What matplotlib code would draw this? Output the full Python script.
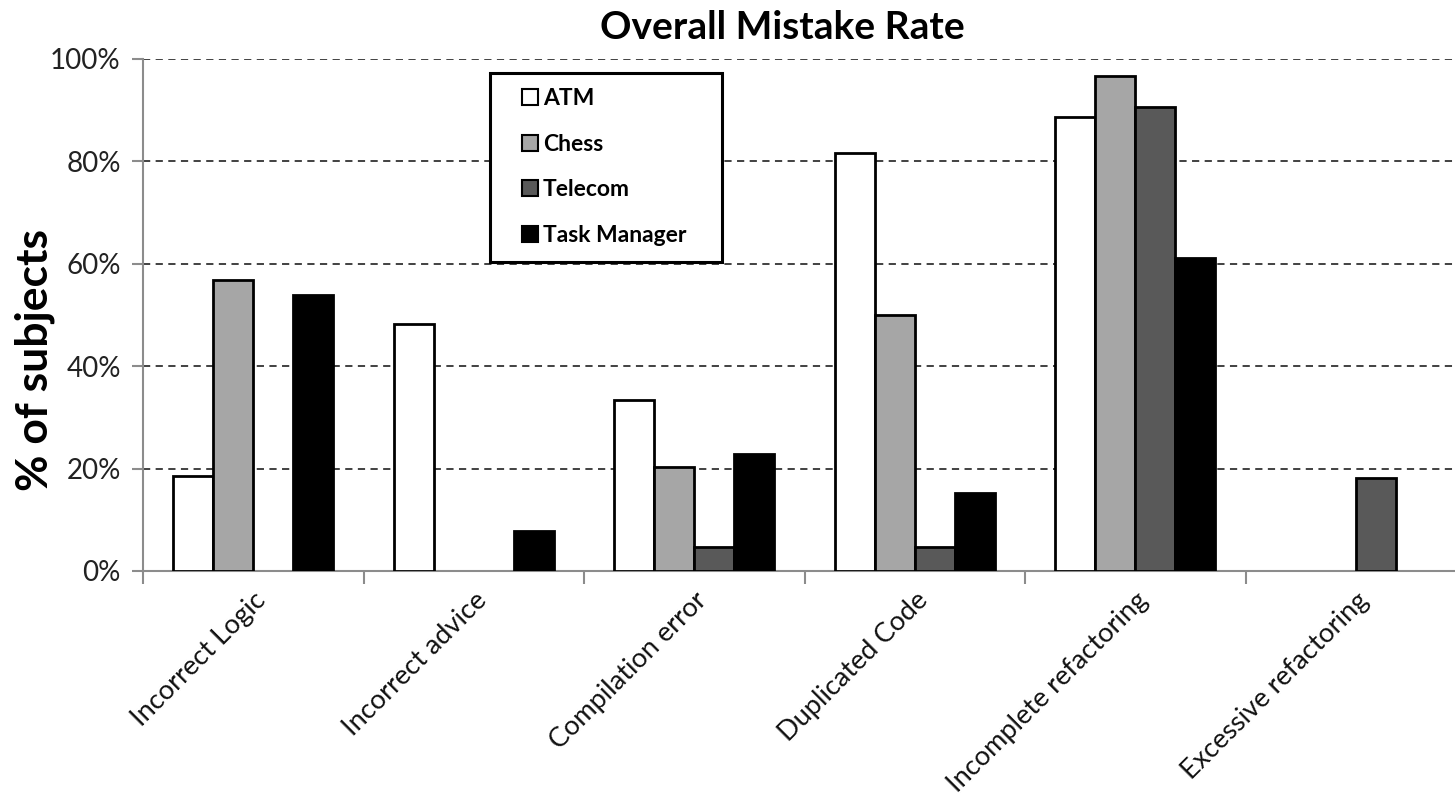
import numpy as np
import matplotlib.pyplot as plt
from matplotlib.patches import Rectangle
from matplotlib.ticker import FixedLocator, PercentFormatter

plt.rcParams['font.family'] = ['Lato', 'DejaVu Sans']

categories = ['Incorrect Logic', 'Incorrect advice', 'Compilation error',
              'Duplicated Code', 'Incomplete refactoring', 'Excessive refactoring']
series = ['ATM', 'Chess', 'Telecom', 'Task Manager']
atm = [18.6, 48.2, 33.4, 81.6, 88.7, 0]
chess = [56.8, 0, 20.3, 50.0, 96.7, 0]
telecom = [0, 0, 4.7, 4.7, 90.7, 18.2]
task_manager = [53.9, 7.8, 22.9, 15.2, 61.1, 0]

colors = ['#ffffff', '#a6a6a6', '#595959', '#000000']


def draw_bars(ax):
    x = np.arange(len(categories))
    width = 0.181
    for i, (name, vals) in enumerate(zip(series, [atm, chess, telecom, task_manager])):
        pos = x + (i - 1.5) * width
        # skip empty cells so no flat outline is drawn on the axis
        keep = [j for j, v in enumerate(vals) if v > 0]
        ax.bar(pos[keep], [vals[j] for j in keep], width, color=colors[i],
               edgecolor='black', lw=2, label=name, zorder=3)
    return x


def main():
    fig = plt.figure(figsize=(14.55, 8.06), dpi=100)
    ax = fig.add_axes([0.0983, 0.2916, 0.9093, 0.6352])
    x = draw_bars(ax)

    ax.set_xlim(-0.5, len(categories) - 0.5)
    ax.set_ylim(0, 100)
    ax.set_yticks([0, 20, 40, 60, 80, 100])
    ax.yaxis.set_major_formatter(PercentFormatter(decimals=0))
    ax.yaxis.grid(True, ls=(0, (4, 3)), color='#333333', lw=1.3, zorder=0)

    for s in ['top', 'right']:
        ax.spines[s].set_visible(False)
    for s in ['left', 'bottom']:
        ax.spines[s].set_color('#8c8c8c')
        ax.spines[s].set_linewidth(1.5)

    ax.set_xticks(x)
    ax.set_xticklabels(categories, rotation=45, ha='right', rotation_mode='anchor',
                       fontsize=19.5, color='#111111')
    ax.tick_params(axis='x', which='major', length=0, pad=12)
    ax.xaxis.set_minor_locator(FixedLocator(np.arange(len(categories) + 1) - 0.5))
    ax.tick_params(axis='x', which='minor', length=9, width=1.5, color='#8c8c8c',
                   direction='out')
    ax.tick_params(axis='y', length=8, width=1.5, color='#8c8c8c', labelsize=20,
                   pad=8, labelcolor='#222222')

    ax.set_ylabel('% of subjects', fontsize=32, fontweight='bold', va='center')
    ax.yaxis.set_label_coords(-0.0816, 0.412)
    fig.text(0.538, 0.966, 'Overall Mistake Rate', fontsize=28, fontweight='bold',
             ha='center', va='center')

    # legend box drawn separately so its padding can be wider than tall
    ax.add_patch(Rectangle((0.2623, 0.6035), 0.1754, 0.369, transform=ax.transAxes,
                           facecolor='white', edgecolor='black', lw=2.2, zorder=4,
                           clip_on=False))
    leg = ax.legend(loc='upper left', bbox_to_anchor=(0.2865, 0.943),
                    prop={'weight': 'bold', 'size': 16.5}, frameon=False,
                    handlelength=0.7, handleheight=0.7, handletextpad=0.2,
                    labelspacing=1.07, borderpad=0, borderaxespad=0)
    leg.set_zorder(5)
    for h in leg.legend_handles:
        h.set_linewidth(1.5)

    fig.savefig('out.png', dpi=100)


if __name__ == '__main__':
    main()
